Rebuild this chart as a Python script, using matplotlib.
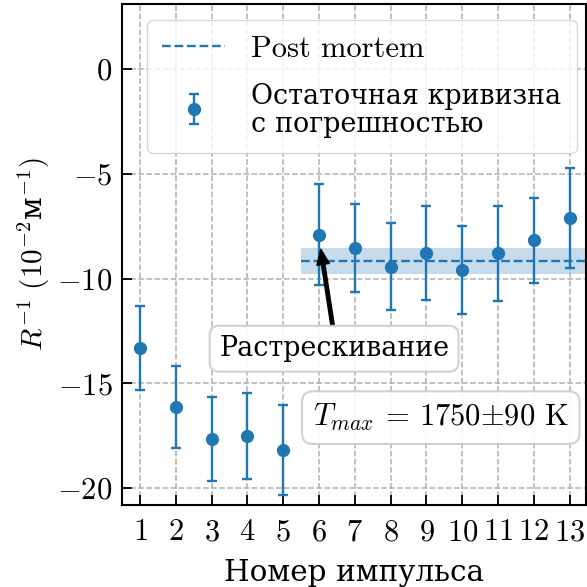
import matplotlib
matplotlib.use("Agg")
import matplotlib.pyplot as plt
import numpy as np

plt.rcParams['font.family'] = ['cmr10', 'DejaVu Serif']
plt.rcParams['mathtext.fontset'] = 'cm'
plt.rcParams['axes.formatter.use_mathtext'] = True
plt.rcParams['axes.unicode_minus'] = True

pulses = [1, 2, 3, 4, 5, 6, 7, 8, 9, 10, 11, 12, 13]
curv = [-13.33, -16.12, -17.64, -17.51, -18.17, -7.91, -8.55, -9.43, -8.79, -9.59, -8.79, -8.18, -7.11]
curv_err = [2.0, 1.96, 2.0, 2.05, 2.15, 2.4, 2.1, 2.07, 2.25, 2.1, 2.27, 2.04, 2.38]
post_mortem = -9.17
post_mortem_err = 0.62
post_mortem_start = 5.5
xticks = list(range(1, 14))
yticks = [-20, -15, -10, -5, 0]

FS = 22      # cmr10 text
FSC = 19.4   # Cyrillic text in legend / annotation (DejaVu Serif)
FSX = 21.2   # Cyrillic axis label
blue = '#1f77b4'

fig = plt.figure(figsize=(5.87, 5.87), dpi=100)
ax = fig.add_axes([0.208, 0.140, 0.790, 0.853])

xlim = (0.5, 13.45)
ax.set_xlim(*xlim)
ax.set_ylim(-20.8, 3.1)

ax.fill_between([post_mortem_start, xlim[1]], post_mortem - post_mortem_err,
                post_mortem + post_mortem_err, color=blue, alpha=0.25, lw=0, zorder=2)
ax.plot([post_mortem_start, xlim[1]], [post_mortem, post_mortem], ls='--', color=blue,
        lw=1.7, label='Post mortem', zorder=3)
ax.errorbar(pulses, curv, yerr=curv_err, fmt='o', color=blue, ms=8.5, elinewidth=1.7,
            capsize=3.6, capthick=1.7, label='Остаточная кривизна\nс погрешностью', zorder=4)

ax.set_xticks(xticks)
ax.set_yticks(yticks)
ax.grid(True, ls='--', color='#b0b0b0', lw=1.1)
ax.set_axisbelow(True)
ax.tick_params(direction='in', length=7, width=1.3, labelsize=FS, pad=7)
ax.tick_params(axis='x', pad=10)
for s in ax.spines.values():
    s.set_linewidth(1.5)

ax.set_xlabel('Номер импульса', fontsize=FSX, labelpad=9)
ax.set_ylabel(r'$R^{-1}\ (10^{-2}$м$^{-1})$', fontsize=21, family='DejaVu Serif', labelpad=4)

leg = ax.legend(loc='upper left', bbox_to_anchor=(0.054, 0.968), borderaxespad=0,
                fontsize=FS, handlelength=2.06, borderpad=0.5, labelspacing=0.65,
                handletextpad=0.85)
leg.get_texts()[1].set_fontsize(FSC)

bbox = dict(boxstyle='round,pad=0.35', fc='white', ec='0.8', lw=1.5, alpha=0.9)
ax.annotate('Растрескивание', xy=(6.05, -8.6), xytext=(6.42, -13.35),
            fontsize=FSC, ha='center', va='center', bbox=bbox,
            arrowprops=dict(facecolor='black', edgecolor='black', width=2.5,
                            headwidth=9, headlength=11, shrink=0.0), zorder=6)
ax.text(9.4, -16.64, r'$T_{max}$ = 1750${\pm}$90 K', fontsize=FS,
        ha='center', va='center', bbox=bbox, zorder=6)

fig.savefig('out.png', dpi=100)
